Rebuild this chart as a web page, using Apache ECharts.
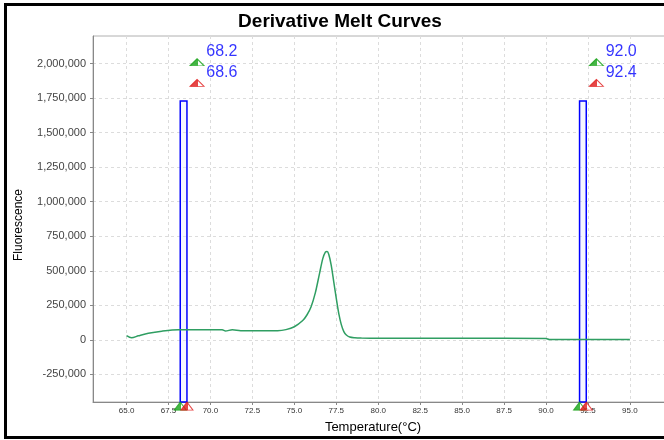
<!DOCTYPE html>
<html>
<head>
<meta charset="utf-8">
<script src="https://cdn.jsdelivr.net/npm/echarts@6/dist/echarts.min.js"></script>
<style>
  html, body { margin: 0; padding: 0; background: #fff; }
  #chart { width: 664px; height: 440px; }
</style>
</head>
<body>
<div id="chart"></div>
<script>
(function() {
    // melt curve (temperature in °C, derivative fluorescence)
    var temps = [65.0, 65.3, 65.7, 66.3, 67.1, 68.1, 69.5, 70.7, 70.9, 71.3, 71.8, 73.0, 74.0, 74.5,
                 75.0, 75.5, 75.75, 76.0, 76.25, 76.5, 76.7, 76.85, 76.95, 77.05, 77.2, 77.35, 77.5,
                 77.65, 77.8, 77.95, 78.1, 78.3, 78.6, 79.0, 80.0, 85.0, 90.0, 90.2, 95.0];
    var fluor = [30000, 15000, 29000, 48000, 63000, 73000, 73000, 73000, 64000, 73000, 66000, 65000, 66000, 74000,
                 95000, 140000, 180000, 240000, 340000, 480000, 590000, 635000, 640000, 620000, 540000, 420000, 300000,
                 190000, 110000, 60000, 35000, 20000, 15000, 13000, 12000, 11000, 10000, 3000, 2000];

    var xTicks = [65.0, 67.5, 70.0, 72.5, 75.0, 77.5, 80.0, 82.5, 85.0, 87.5, 90.0, 92.5, 95.0];
    var yTicks = [-250000, 0, 250000, 500000, 750000, 1000000, 1250000, 1500000, 1750000, 2000000];

    // cursor pairs
    var cursorLow = [68.2, 92.0];
    var cursorHigh = [68.6, 92.4];
    var cursorTop = 1730000;
    var flagX = [69.2, 93.0];
    var flagLowY = 2010000;
    var flagHighY = 1860000;
    var footY = -480000;

    var GREEN = '#17a317', RED = '#e01818', BLUE = '#0000ff';

    function halfFill(c) {
        return {
            type: 'linear', x: 0, y: 0, x2: 1, y2: 0,
            colorStops: [{offset: 0, color: c}, {offset: 0.55, color: c},
                         {offset: 0.55, color: '#fff'}, {offset: 1, color: '#fff'}]
        };
    }

    var curve = temps.map(function(t, i) { return [t, fluor[i]]; });

    var areas = cursorLow.map(function(lo, i) {
        return [{xAxis: lo, yAxis: -450000}, {xAxis: cursorHigh[i], yAxis: cursorTop}];
    });

    var flags = [];
    var feet = [];
    cursorLow.forEach(function(lo, i) {
        flags.push({value: [flagX[i], flagLowY], label: {formatter: lo.toFixed(1)},
                    itemStyle: {color: halfFill(GREEN), borderColor: GREEN}});
        flags.push({value: [flagX[i], flagHighY], label: {formatter: cursorHigh[i].toFixed(1)},
                    itemStyle: {color: halfFill(RED), borderColor: RED}});
        feet.push({value: [lo, footY], itemStyle: {color: halfFill(GREEN), borderColor: GREEN}});
        feet.push({value: [cursorHigh[i], footY], itemStyle: {color: halfFill(RED), borderColor: RED}});
    });

    var myChart = echarts.init(document.getElementById('chart'));
    var option = {
        animation: false,
        backgroundColor: '#fff',
        title: {
            text: 'Derivative Melt Curves',
            left: 335,
            textAlign: 'center',
            top: 7,
            textStyle: {fontFamily: 'Liberation Sans, Arial', fontSize: 19, fontWeight: 'bold', color: '#000'}
        },
        graphic: [{
            type: 'rect',
            shape: {x: 5.5, y: 4.5, width: 700, height: 433},
            style: {fill: 'none', stroke: '#000', lineWidth: 3},
            silent: true
        }],
        grid: {
            left: 93, width: 604, top: 36, bottom: 38,
            outerBoundsMode: 'none',
            containLabel: false,
            show: true, borderColor: '#b0b0b0', borderWidth: 1, backgroundColor: '#fff'
        },
        xAxis: {
            type: 'value',
            min: 63.0,
            max: 99.0,
            name: 'Temperature(°C)',
            nameLocation: 'middle',
            nameGap: 19,
            nameTextStyle: {fontFamily: 'Liberation Sans, Arial', fontSize: 13, color: '#000', padding: [0, 44, 0, 0]},
            axisLine: {onZero: false, lineStyle: {color: '#888'}},
            axisTick: {show: true, length: 3, customValues: xTicks, lineStyle: {color: '#888'}},
            axisLabel: {customValues: xTicks, fontSize: 8, color: '#333', margin: 5,
                        fontFamily: 'Liberation Sans, Arial',
                        formatter: function(v) { return v.toFixed(1); }},
            splitLine: {show: true, lineStyle: {color: '#dcdcdc', type: [3, 3]}}
        },
        yAxis: {
            type: 'value',
            min: -450000,
            max: 2200000,
            name: 'Fluorescence',
            nameLocation: 'middle',
            nameGap: 68,
            nameTextStyle: {fontFamily: 'Liberation Sans, Arial', fontSize: 12, color: '#000', padding: [0, 12, 0, 0]},
            axisLine: {show: true, onZero: false, lineStyle: {color: '#888'}},
            axisTick: {show: true, length: 3, customValues: yTicks, lineStyle: {color: '#888'}},
            axisLabel: {customValues: yTicks, fontSize: 11, color: '#444', margin: 7,
                        fontFamily: 'Liberation Sans, Arial',
                        formatter: function(v) { return v.toLocaleString('en-US'); }},
            splitLine: {show: true, lineStyle: {color: '#dcdcdc', type: [3, 3]}}
        },
        series: [{
            name: 'Melt',
            type: 'line',
            data: curve,
            showSymbol: false,
            smooth: 0.3,
            lineStyle: {color: '#2f9e62', width: 1.5},
            markArea: {
                silent: true,
                itemStyle: {color: 'rgba(225,230,255,0.35)', borderColor: BLUE, borderWidth: 1.5},
                data: areas
            },
            z: 3
        }, {
            name: 'Flags',
            type: 'scatter',
            symbol: 'triangle',
            symbolSize: [14, 7],
            data: flags,
            itemStyle: {borderWidth: 1},
            label: {
                show: true,
                position: [17, -15],
                fontFamily: 'Liberation Sans, Arial',
                fontSize: 16,
                color: BLUE
            },
            z: 5
        }, {
            name: 'Feet',
            type: 'scatter',
            symbol: 'triangle',
            symbolSize: [12, 8],
            clip: false,
            data: feet,
            itemStyle: {borderWidth: 1},
            z: 5
        }]
    };
    myChart.setOption(option);
    window.addEventListener('resize', function() {
        myChart.resize();
    });
})();
</script>
</body>
</html>
